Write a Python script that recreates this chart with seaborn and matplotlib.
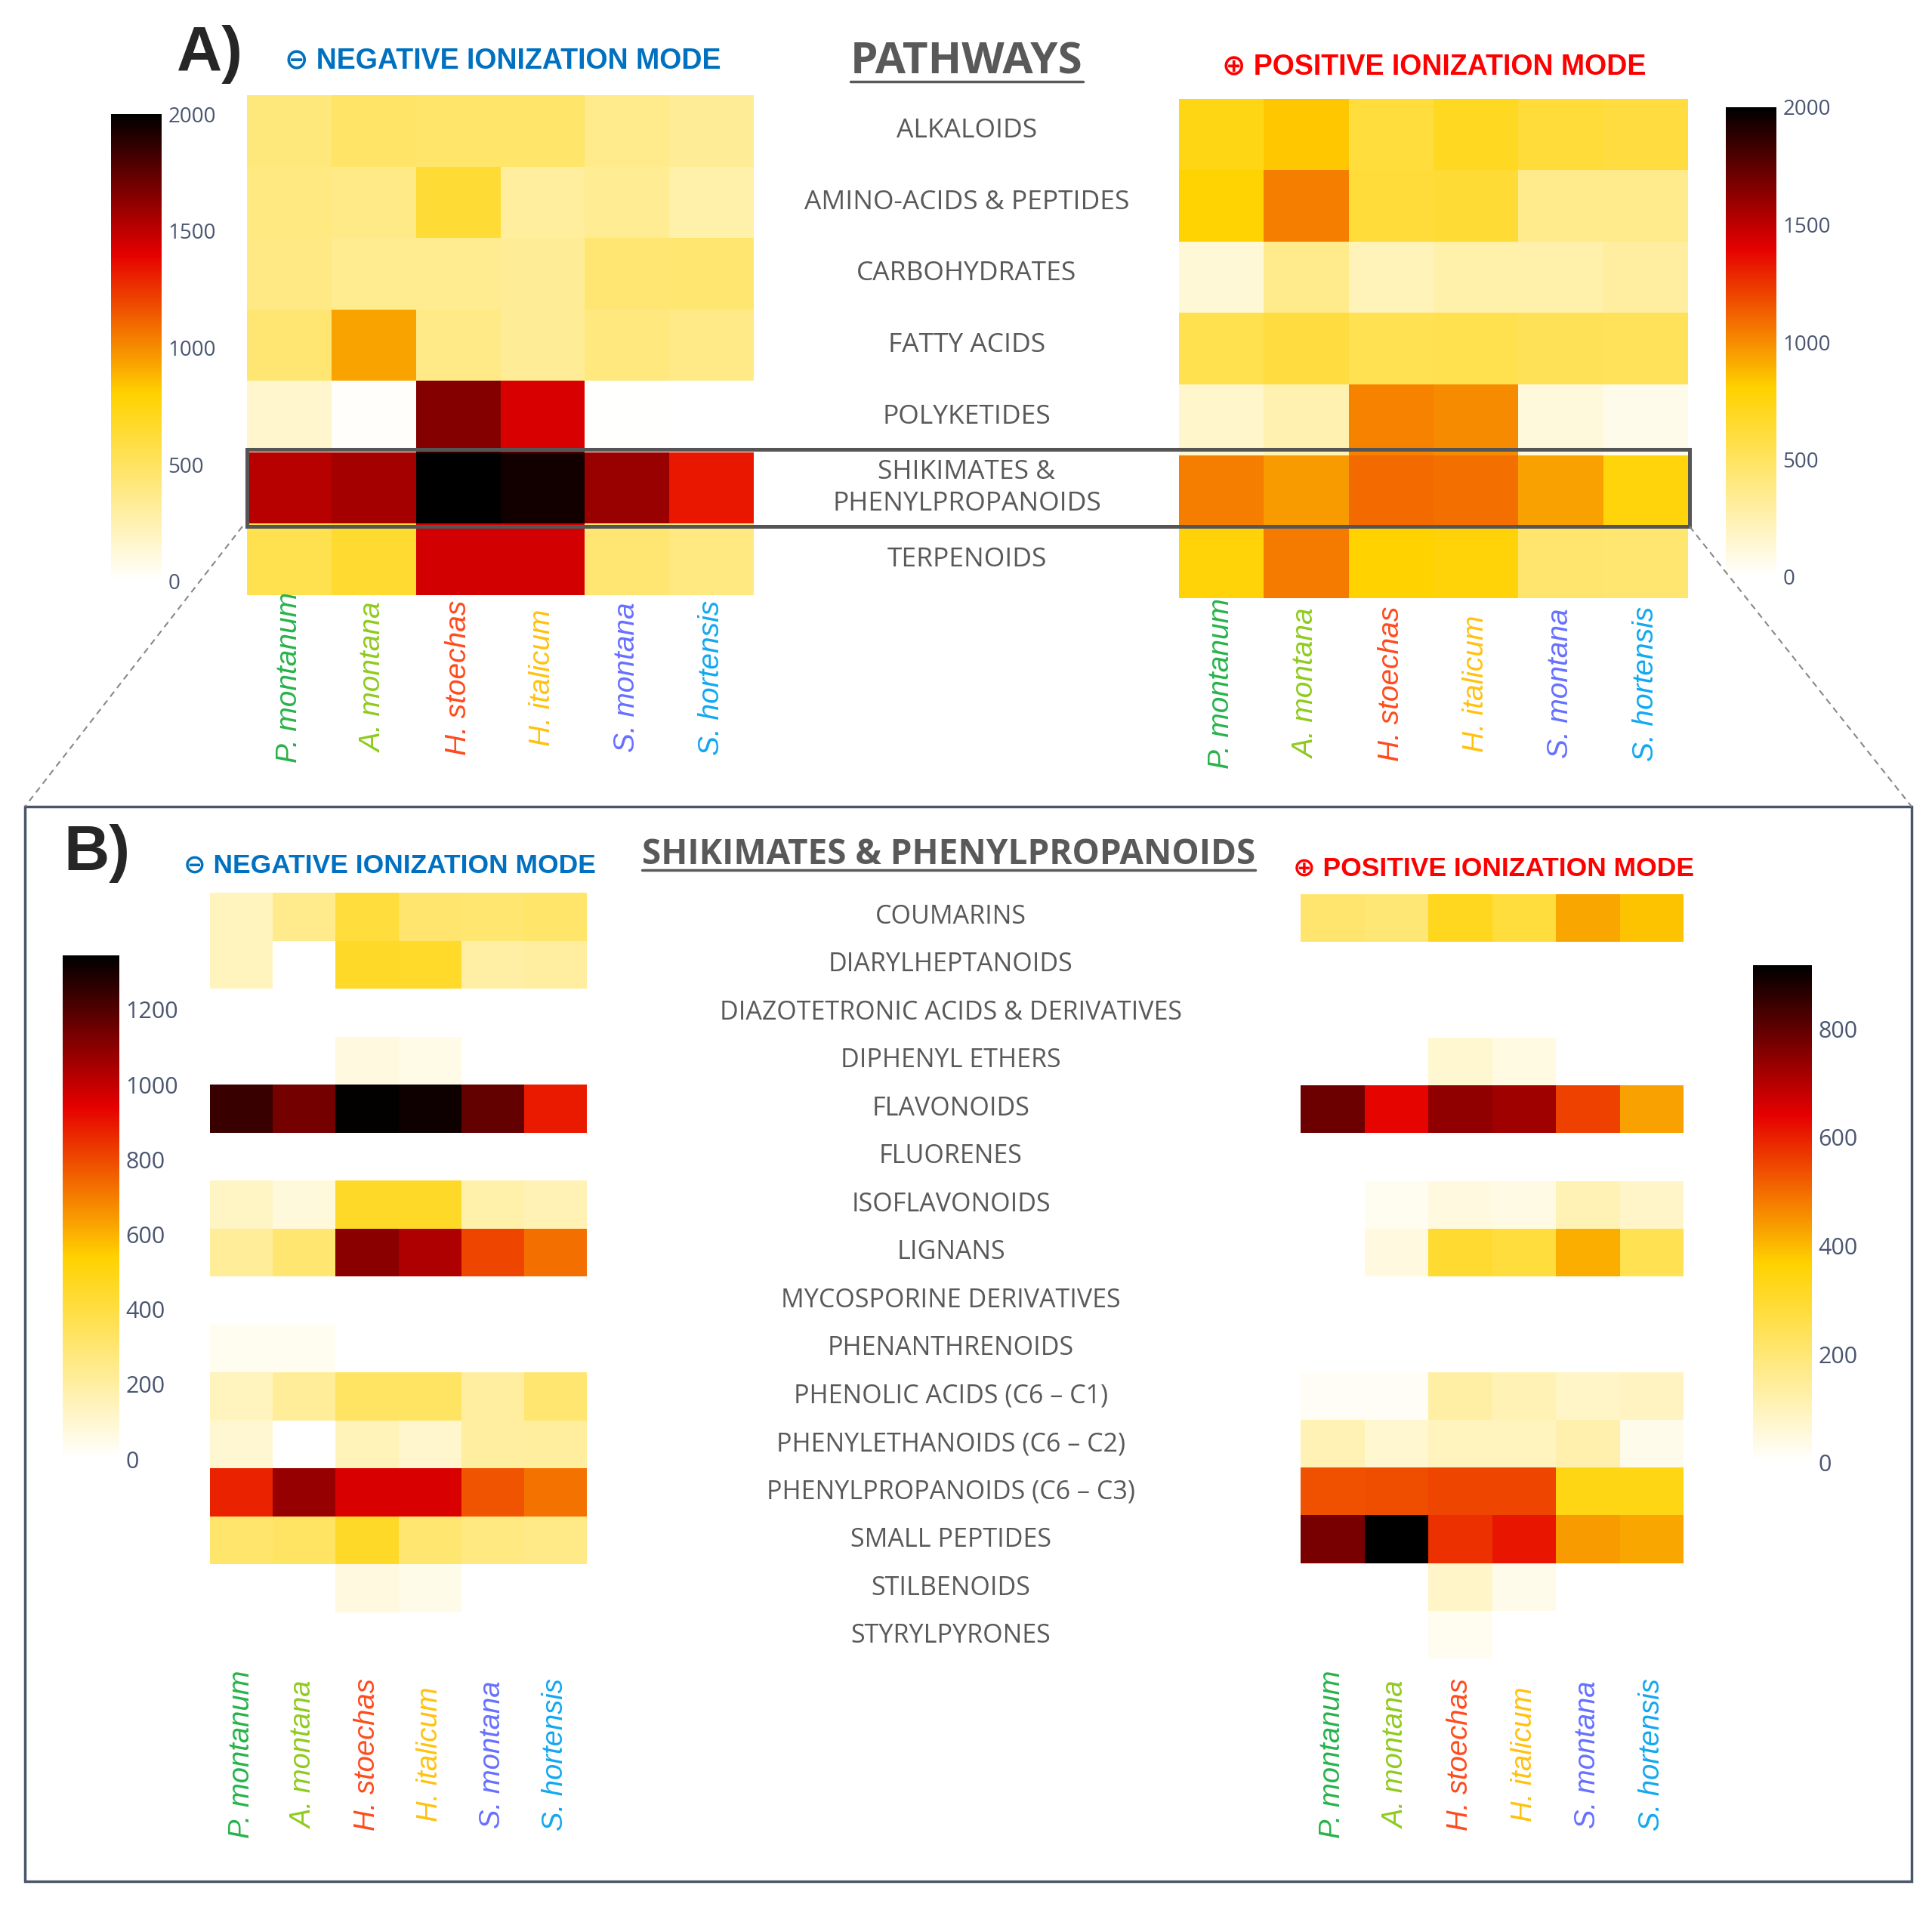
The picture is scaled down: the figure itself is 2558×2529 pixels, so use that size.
import numpy as np
import pandas as pd
import matplotlib
matplotlib.use("Agg")
import matplotlib.pyplot as plt
import seaborn as sns
from matplotlib.colors import LinearSegmentedColormap
from matplotlib.transforms import blended_transform_factory
from matplotlib.lines import Line2D
from matplotlib.patches import Rectangle

# ---- data ----
species = ["P. montanum", "A. montana", "H. stoechas", "H. italicum", "S. montana", "S. hortensis"]
species_colors = ["#27B34B", "#8FCB1E", "#FF4A1C", "#FFC20E", "#6670FF", "#12A8F0"]

pathways = ["ALKALOIDS", "AMINO-ACIDS & PEPTIDES", "CARBOHYDRATES", "FATTY ACIDS",
            "POLYKETIDES", "SHIKIMATES &\nPHENYLPROPANOIDS", "TERPENOIDS"]

path_neg = [
    [420, 480, 470, 470, 360, 330],
    [400, 380, 640, 310, 340, 270],
    [390, 350, 350, 330, 440, 450],
    [440, 930, 380, 330, 410, 380],
    [160, 20, 1650, 1430, 15, 5],
    [1520, 1570, 2000, 1950, 1600, 1330],
    [560, 650, 1450, 1450, 440, 400],
]
path_pos = [
    [740, 830, 610, 700, 620, 600],
    [790, 1040, 620, 640, 360, 360],
    [125, 360, 220, 270, 270, 300],
    [560, 600, 540, 560, 530, 520],
    [170, 250, 1030, 1000, 110, 70],
    [1040, 960, 1100, 1080, 940, 770],
    [780, 1050, 800, 780, 460, 450],
]

subclasses = ["COUMARINS", "DIARYLHEPTANOIDS", "DIAZOTETRONIC ACIDS & DERIVATIVES",
              "DIPHENYL ETHERS", "FLAVONOIDS", "FLUORENES", "ISOFLAVONOIDS", "LIGNANS",
              "MYCOSPORINE DERIVATIVES", "PHENANTHRENOIDS", "PHENOLIC ACIDS (C6 \u2013 C1)",
              "PHENYLETHANOIDS (C6 \u2013 C2)", "PHENYLPROPANOIDS (C6 \u2013 C3)",
              "SMALL PEPTIDES", "STILBENOIDS", "STYRYLPYRONES"]

shik_neg = [
    [137, 242, 410, 305, 300, 320],
    [140, 0, 455, 450, 190, 200],
    [0, 0, 0, 0, 0, 0],
    [0, 0, 70, 55, 0, 0],
    [1240, 1135, 1335, 1315, 1170, 893],
    [0, 0, 0, 0, 0, 0],
    [130, 75, 455, 455, 180, 160],
    [220, 300, 1100, 1040, 807, 730],
    [0, 0, 0, 0, 0, 0],
    [35, 35, 0, 0, 0, 0],
    [140, 220, 330, 330, 200, 300],
    [95, 0, 150, 110, 200, 210],
    [875, 1080, 965, 965, 780, 720],
    [310, 330, 455, 300, 270, 255],
    [0, 0, 70, 50, 0, 0],
    [0, 0, 0, 0, 0, 0],
]
shik_pos = [
    [210, 200, 325, 280, 425, 390],
    [0, 0, 0, 0, 0, 0],
    [0, 0, 0, 0, 0, 0],
    [0, 0, 70, 45, 0, 0],
    [785, 635, 745, 725, 556, 430],
    [0, 0, 0, 0, 0, 0],
    [0, 25, 50, 40, 110, 80],
    [0, 50, 300, 280, 415, 250],
    [0, 0, 0, 0, 0, 0],
    [0, 0, 0, 0, 0, 0],
    [15, 15, 130, 110, 85, 90],
    [110, 70, 95, 95, 120, 30],
    [537, 540, 550, 550, 340, 340],
    [773, 917, 580, 615, 440, 425],
    [0, 0, 80, 30, 0, 0],
    [0, 0, 25, 0, 0, 0],
]

# ---- style ----
sns.set_style("white")
plt.rcParams["font.family"] = ["Open Sans", "DejaVu Sans"]

hot_r = LinearSegmentedColormap.from_list(
    "hot_r", [(0.0, (1, 1, 1)), (0.4, (1, 210/255, 0)), (0.7, (230/255, 0, 0)), (1.0, (0, 0, 0))])

W, H = 2558, 2529
fig = plt.figure(figsize=(W/100, H/100), dpi=100)


def rect(x0, y0, x1, y1):
    return [x0/W, 1 - y1/H, (x1-x0)/W, (y1-y0)/H]


def fy(y):
    return 1 - y/H


tick_col = "#4a5670"
label_col = "#595959"


def panel(values, rows, cols, hm_box, cb_box, vmax, ticks, lab_y, tick_size, sp_size):
    ax = fig.add_axes(rect(*hm_box))
    cax = fig.add_axes(rect(*cb_box))
    df = pd.DataFrame(values, index=rows, columns=cols)
    sns.heatmap(df, ax=ax, cmap=hot_r, vmin=0, vmax=vmax, cbar_ax=cax,
                xticklabels=False, yticklabels=False, linewidths=0)
    ax.set_xlabel("")
    ax.set_ylabel("")
    cb = ax.collections[0].colorbar
    cb.set_ticks(ticks)
    cb.outline.set_visible(False)
    cax.tick_params(length=0, labelsize=tick_size, labelcolor=tick_col, pad=6)
    tr = blended_transform_factory(ax.transData, fig.transFigure)
    for i, (name, c) in enumerate(zip(cols, species_colors)):
        ax.text(i + 0.5, fy(lab_y), name, transform=tr, rotation=90, ha="center",
                va="center", color=c, style="italic", fontsize=sp_size,
                family=["Liberation Sans", "DejaVu Sans"])
    return ax


# Panel A
axA = panel(path_neg, pathways, species, (327, 126, 998, 788), (147, 151, 214, 770),
            2000, [0, 500, 1000, 1500, 2000], 897, 20, 28)
panel(path_pos, pathways, species, (1561, 131, 2235, 792), (2285, 142, 2352, 764),
      2000, [0, 500, 1000, 1500, 2000], 905, 20, 28)
trA = blended_transform_factory(fig.transFigure, axA.transData)
for i, name in enumerate(pathways):
    axA.text(1280/W, i + 0.5, name, transform=trA, ha="center", va="center",
             fontsize=25.5, color=label_col, linespacing=1.3)

# Panel B
axB = panel(shik_neg, subclasses, species, (278, 1182, 777, 2198), (83, 1265, 158, 1932),
            1345, [0, 200, 400, 600, 800, 1000, 1200], 2323, 22, 27.5)
panel(shik_pos, subclasses, species, (1722, 1184, 2229, 2196), (2321, 1278, 2399, 1937),
      917, [0, 200, 400, 600, 800], 2323, 22, 27.5)
trB = blended_transform_factory(fig.transFigure, axB.transData)
for i, name in enumerate(subclasses):
    axB.text(1259/W, i + 0.5, name, transform=trB, ha="center", va="center",
             fontsize=24.5, color=label_col)

# titles
bold = dict(weight="bold", family=["Liberation Sans", "DejaVu Sans"])
fig.text(234/W, fy(72), "A)", fontsize=60, ha="left", va="center", **bold)
fig.text(84/W, fy(1130), "B)", fontsize=60, ha="left", va="center", **bold)
fig.text(666/W, fy(80), "\u2296 NEGATIVE IONIZATION MODE", fontsize=27, color="#0070C0",
         ha="center", va="center", **bold)
fig.text(1899/W, fy(88), "\u2295 POSITIVE IONIZATION MODE", fontsize=27, color="#FF0000",
         ha="center", va="center", **bold)
fig.text(516/W, fy(1146), "\u2296 NEGATIVE IONIZATION MODE", fontsize=25.5, color="#0070C0",
         ha="center", va="center", **bold)
fig.text(1978/W, fy(1150), "\u2295 POSITIVE IONIZATION MODE", fontsize=25.5, color="#FF0000",
         ha="center", va="center", **bold)
t1 = fig.text(1280/W, fy(82), "PATHWAYS", fontsize=42, color=label_col, ha="center",
              va="center", weight="bold")
t2 = fig.text(1256/W, fy(1131), "SHIKIMATES & PHENYLPROPANOIDS", fontsize=33,
              color=label_col, ha="center", va="center", weight="bold")

# underline the two centre titles
fig.canvas.draw()
inv = fig.transFigure.inverted()
for t in (t1, t2):
    bb = t.get_window_extent().transformed(inv)
    fig.add_artist(Line2D([bb.x0, bb.x1], [bb.y0 + 0.001, bb.y0 + 0.001],
                          color=label_col, lw=2.5, transform=fig.transFigure))

# highlight box on shikimates row and zoom lines
fig.add_artist(Rectangle((327/W, fy(697)), (2237-327)/W, (697-595)/H, fill=False,
                         ec="#555555", lw=3.6, transform=fig.transFigure))
fig.add_artist(Rectangle((33/W, fy(2491)), (2531-33)/W, (2491-1068)/H, fill=False,
                         ec="#4a5568", lw=2.5, transform=fig.transFigure))
fig.add_artist(Line2D([321/W, 33/W], [fy(697), fy(1068)], ls=(0, (4, 3)), color="#888888",
                      lw=1.5, transform=fig.transFigure))
fig.add_artist(Line2D([2237/W, 2531/W], [fy(697), fy(1068)], ls=(0, (4, 3)), color="#888888",
                      lw=1.5, transform=fig.transFigure))

fig.savefig("out.png", dpi=100, facecolor="white")
